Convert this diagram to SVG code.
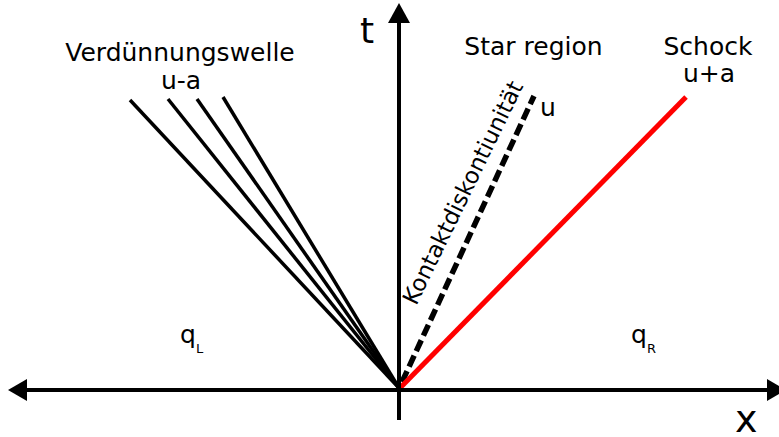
<svg xmlns="http://www.w3.org/2000/svg" width="779" height="437" viewBox="0 0 779 437">
<style>
text{font-family:"DejaVu Sans","Liberation Sans",sans-serif;fill:#000}
.lbl{font-size:25px}
.axis{stroke:#000;stroke-width:4;fill:none}
.rare{stroke:#000;stroke-width:3.5;fill:none}
.contact{stroke:#000;stroke-width:5.5;stroke-dasharray:12 5;fill:none}
.shock{stroke:#ff0000;stroke-width:5;fill:none}
</style>
<rect width="779" height="437" fill="#fff"/>
<g id="connectors">
<g id="rarefaction">
<line class="rare" x1="399" y1="388" x2="130" y2="100"/>
<line class="rare" x1="399" y1="388" x2="168" y2="99"/>
<line class="rare" x1="399" y1="388" x2="197" y2="99"/>
<line class="rare" x1="399" y1="388" x2="223" y2="97"/>
</g>
<line id="contact-line" class="contact" x1="402" y1="382" x2="534" y2="96"/>
<line id="shock-line" class="shock" x1="400" y1="388" x2="686" y2="97"/>
</g>
<g id="t-axis">
<line class="axis" x1="399" y1="420" x2="399" y2="20"/>
<polygon points="399,3 388,23 410,23" fill="#000"/>
<text x="360" y="43" font-size="36">t</text>
</g>
<g id="x-axis">
<line class="axis" x1="25" y1="390" x2="769" y2="390"/>
<polygon points="8,390 27,379 27,401" fill="#000"/>
<polygon points="786,390 767,379 767,401" fill="#000"/>
<text x="735" y="432" font-size="38">x</text>
</g>
<g id="rarefaction-label">
<text class="lbl" x="180" y="61" text-anchor="middle">Verdünnungswelle</text>
<text class="lbl" x="181" y="89" text-anchor="middle">u-a</text>
</g>
<g id="star-label">
<text class="lbl" x="533.5" y="55" text-anchor="middle">Star region</text>
</g>
<g id="shock-label">
<text class="lbl" x="708" y="55" text-anchor="middle">Schock</text>
<text class="lbl" x="709" y="82" text-anchor="middle">u+a</text>
</g>
<g id="contact-label">
<text font-size="23" text-anchor="middle" transform="translate(470,196) rotate(-64)">Kontaktdiskontiunität</text>
<text class="lbl" x="540" y="116">u</text>
</g>
<g id="qL">
<text x="180" y="343" font-size="25">q<tspan font-size="13" dy="10">L</tspan></text>
</g>
<g id="qR">
<text x="631" y="343" font-size="25">q<tspan font-size="13" dy="10">R</tspan></text>
</g>
</svg>
